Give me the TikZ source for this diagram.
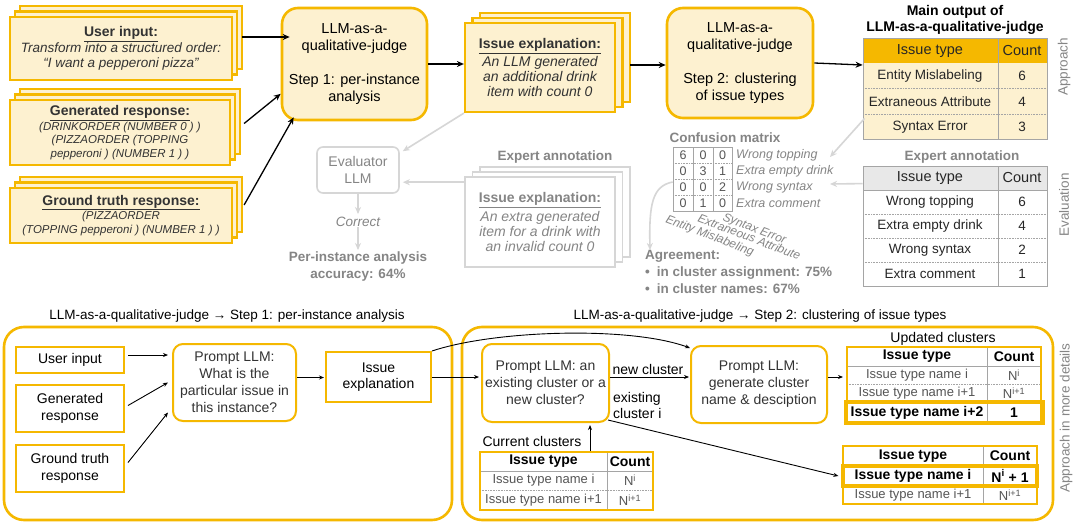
\documentclass[tikz,border=0pt]{standalone}
\usepackage{fontspec}
\setmainfont{Liberation Sans}
\usetikzlibrary{arrows.meta,shadows}
\definecolor{gold}{HTML}{F5B800}
\definecolor{lightfill}{HTML}{FDF1D0}
\definecolor{tgray}{HTML}{858585}
\definecolor{lgray}{HTML}{D6D6D6}
\definecolor{hgray}{HTML}{E8E8E8}
\definecolor{bgray}{HTML}{A5A5A5}
\definecolor{dtext}{HTML}{333333}
\definecolor{rtext}{HTML}{555555}
\newcommand\fsz[2]{\fontsize{#1}{#2}\selectfont}
\tikzset{
  ybox/.style={draw=gold, line width=2.2pt, fill=lightfill, inner sep=0pt, align=center, text=dtext},
  stackA/.style={copy shadow={shadow xshift=10pt, shadow yshift=11pt}, copy shadow={shadow xshift=5pt, shadow yshift=5.5pt}},
  stackB/.style={copy shadow={shadow xshift=15pt, shadow yshift=10pt}, copy shadow={shadow xshift=7.5pt, shadow yshift=5pt}},
  judge/.style={draw=gold, line width=2.6pt, fill=lightfill, rounded corners=16pt, inner sep=0pt, align=center, font=\fsz{14.5}{17}},
  gbox/.style={draw=lgray, line width=1.6pt, fill=white, inner sep=0pt, align=center, text=tgray},
  txt/.style={inner sep=0pt, align=center},
  barr/.style={-{Stealth[length=7pt,width=6pt]}, line width=1.3pt},
  garr/.style={-{Stealth[length=7pt,width=6pt]}, line width=1.6pt, draw=lgray},
  sarr/.style={-{Stealth[length=5pt,width=4pt]}, line width=0.9pt},
  obox/.style={draw=gold, line width=2pt, fill=white, inner sep=0pt, align=center, text=black, font=\fsz{14}{16.5}},
  rbox/.style={obox, rounded corners=10pt, text=dtext},
  cont/.style={draw=gold, line width=2.6pt, rounded corners=20pt, inner sep=0pt},
  tline/.style={bgray, line width=0.6pt},
  dline/.style={bgray, line width=0.6pt, densely dotted},
  thick gold/.style={draw=gold, line width=3.2pt},
}
\begin{document}
\begin{tikzpicture}[x=1pt,y=-1pt]
\useasboundingbox (0,0) rectangle (1079,530);
\fill[white] (0,0) rectangle (1079,530);

% ---------------- top-left stacks
\node[ybox, stackA, minimum width=222pt, minimum height=63pt, font=\fsz{13.5}{15}] (ui) at (121,48.5)
  {\fsz{14}{15}\underline{\textbf{User input:}}\\[1pt] \itshape Transform into a structured order:\\ \itshape “I want a pepperoni pizza”};
\node[ybox, stackA, minimum width=220pt, minimum height=65pt, font=\fsz{11.5}{13.5}] (gr) at (120,132.5)
  {\fsz{14}{15}\underline{\textbf{Generated response:}}\\[1pt] \itshape (DRINKORDER (NUMBER 0 ) )\\ \itshape (PIZZAORDER (TOPPING\\ \itshape pepperoni ) (NUMBER 1 ) )};
\node[ybox, stackA, minimum width=222pt, minimum height=55pt, font=\fsz{11.5}{13.5}] (gt) at (121,215.5)
  {\fsz{14}{15}\underline{\textbf{Ground truth response:}}\\[1pt] \itshape (PIZZAORDER\\ \itshape (TOPPING pepperoni ) (NUMBER 1 ) )};

% ---------------- judges
\node[judge, minimum width=145pt, minimum height=112pt] (j1) at (354.5,64)
  {LLM-as-a-\\qualitative-judge\\[17pt]Step 1: per-instance\\analysis};
\node[judge, minimum width=146pt, minimum height=110pt] (j2) at (740,63)
  {LLM-as-a-\\qualitative-judge\\[17pt]Step 2: clustering\\of issue types};

\node[ybox, stackB, minimum width=150pt, minimum height=89pt, font=\fsz{14}{15}] (ie) at (540,67.5)
  {\underline{\textbf{Issue explanation:}}\\[2pt] \itshape An LLM generated\\ \itshape an additional drink\\ \itshape item with count 0};

\draw[barr] ([shift={(9,-11.5)}]ui.east) -- ([shift={(9,-11.5)}]ui.east -| j1.west);
\draw[barr] ([shift={(13,-9)}]gr.east) -- (j1.202);
\draw[barr] ([shift={(11,-10.5)}]gt.east) -- ([shift={(13,-4)}]j1.south west);
\draw[barr] (j1.east) -- (j1.east -| ie.west);
\coordinate (ieout) at (630,65);
\draw[barr] (ieout) -- (ieout -| j2.west);

% ---------------- main output table
\node[txt, font=\bfseries\fsz{14}{16}] (mot) at (955,20) {Main output of\\LLM-as-a-qualitative-judge};
\fill[gold] (863,38) rectangle (1047,63);
\fill[lightfill] (863,63) rectangle (1047,139);
\draw[dline] (863,88) -- (1047,88) (863,114) -- (1047,114);
\draw[bgray, line width=0.8pt] (998,38) -- (998,139);
\node[draw=bgray, line width=0.8pt, minimum width=184pt, minimum height=101pt, inner sep=0pt] (mt) at (955,88.5) {};
\begin{scope}[every node/.style={txt, font=\fsz{13.5}{15}, text=black!85}]
\node[font=\fsz{14.5}{16}] (mth1) at (930,51) {Issue type};
\node[font=\fsz{14.5}{16}] (mth2) at (1022,51) {Count};
\node (mtr1) at (930,76) {Entity Mislabeling};
\node (mtc1) at (1022,76) {6};
\node (mtr2) at (930,101.5) {Extraneous Attribute};
\node (mtc2) at (1022,101.5) {4};
\node (mtr3) at (930,127) {Syntax Error};
\node (mtc3) at (1022,127) {3};
\end{scope}
\draw[barr] (j2.east) -- ([yshift=-2pt]j2.east -| mt.west);
\node[txt, rotate=90, text=tgray, font=\fsz{13.5}{15}] (appr) at (1064,67) {Approach};

% ---------------- expert annotation table (right)
\node[txt, text=tgray, font=\bfseries\fsz{13.5}{15}] (eatl) at (962,157) {Expert annotation};
\fill[hgray] (863,166) rectangle (1047,190);
\draw[dline] (863,214)--(1047,214) (863,238)--(1047,238) (863,262)--(1047,262);
\draw[bgray, line width=0.8pt] (863,190)--(1047,190) (998,166)--(998,286);
\node[draw=bgray, line width=0.8pt, minimum width=184pt, minimum height=120pt, inner sep=0pt] (et) at (955,226) {};
\begin{scope}[every node/.style={txt, font=\fsz{13.5}{15}, text=black!85}]
\node[font=\fsz{14.5}{16}] (eth1) at (930,178) {Issue type};
\node[font=\fsz{14.5}{16}] (eth2) at (1022,178) {Count};
\node (etr1) at (930,202) {Wrong topping};
\node (etc1) at (1022,202) {6};
\node (etr2) at (930,226) {Extra empty drink};
\node (etc2) at (1022,226) {4};
\node (etr3) at (930,250) {Wrong syntax};
\node (etc3) at (1022,250) {2};
\node (etr4) at (930,274) {Extra comment};
\node (etc4) at (1022,274) {1};
\end{scope}
\node[txt, rotate=90, text=tgray, font=\fsz{13.5}{15}] (eval) at (1064,205) {Evaluation};

% ---------------- confusion matrix
\node[txt, text=tgray, font=\bfseries\fsz{13.5}{15}] (cmt) at (725,138) {Confusion matrix};
\draw[tline] (693,147) -- (693,211) (713,147) -- (713,211);
\draw[dline] (673,163) -- (732,163) (673,179) -- (732,179) (673,195) -- (732,195);
\node[draw=bgray, line width=0.7pt, minimum width=59pt, minimum height=64pt, inner sep=0pt] (cm) at (702.5,179) {};
\begin{scope}[every node/.style={txt, font=\fsz{12.5}{14}, text=rtext}]
\node (m11) at (683,155) {6}; \node (m12) at (703,155) {0}; \node (m13) at (722.5,155) {0};
\node (m21) at (683,171) {0}; \node (m22) at (703,171) {3}; \node (m23) at (722.5,171) {1};
\node (m31) at (683,187) {0}; \node (m32) at (703,187) {0}; \node (m33) at (722.5,187) {2};
\node (m41) at (683,203) {0}; \node (m42) at (703,203) {1}; \node (m43) at (722.5,203) {0};
\end{scope}
\begin{scope}[every node/.style={txt, anchor=west, font=\itshape\fsz{12.5}{14}, text=tgray}]
\node (cl1) at (736,155) {Wrong topping};
\node (cl2) at (736,171) {Extra empty drink};
\node (cl3) at (736,187) {Wrong syntax};
\node (cl4) at (736,203) {Extra comment};
\end{scope}
\begin{scope}[every node/.style={txt, anchor=north west, rotate=-21, font=\itshape\fsz{12}{14}, text=tgray}]
\node (cr1) at (668,214) {Entity Mislabeling};
\node (cr2) at (700,213) {Extraneous Attribute};
\node (cr3) at (725,212) {Syntax Error};
\end{scope}
\node[txt, anchor=north west, align=left, text=tgray, font=\bfseries\fsz{13.5}{17}] (agr) at (645,250)
  {Agreement:\\[0pt]•\hspace{7pt}in cluster assignment: 75\%\\•\hspace{7pt}in cluster names: 67\%};
\draw[garr] ([yshift=-3pt]cm.west) .. controls (652,186) and (649,205) .. ([xshift=5pt]agr.north west);

\coordinate (cmA) at (830,157);
\coordinate (cmB) at (830,184);
\draw[garr] ([shift={(2,-21)}]mt.south west) -- (cmA);
\draw[garr] ([yshift=-18pt]et.north west) -- (cmB);

% ---------------- evaluator part
\node[gbox, rounded corners=6pt, minimum width=82pt, minimum height=46pt, font=\fsz{14}{17}] (ev) at (358,170) {Evaluator\\LLM};
\node[txt, text=tgray, font=\itshape\fsz{13.5}{15}] (cor) at (358,222) {Correct};
\node[txt, text=tgray, font=\bfseries\fsz{13.5}{17}] (acc) at (358,267) {Per-instance analysis\\accuracy: 64\%};
\draw[garr] (ev.south) -- ([yshift=3pt]cor.north);
\draw[garr] (cor.south) -- ([yshift=2pt]acc.north);

\node[txt, text=tgray, font=\bfseries\fsz{13.5}{15}] (eal) at (555,157) {Expert annotation};
\node[gbox, stackB, minimum width=150pt, minimum height=90pt, font=\fsz{14}{15}] (ex) at (540,222)
  {\underline{\textbf{Issue explanation:}}\\[2pt] \itshape An extra generated\\ \itshape item for a drink with\\ \itshape an invalid count 0};
\draw[garr] (ie.south west) -- ([shift={(3,5)}]ev.north east);
\draw[garr] ([yshift=-6pt]ex.north west) -- ([shift={(3,6)}]ex.north west -| ev.east);

% ---------------- bottom: step 1
\node[txt, font=\fsz{13.5}{15}] (bt1) at (227,316) {LLM-as-a-qualitative-judge → Step 1: per-instance analysis};
\node[txt, font=\fsz{13.5}{15}] (bt2) at (760,316) {LLM-as-a-qualitative-judge → Step 2: clustering of issue types};
\node[cont, minimum width=448pt, minimum height=193pt] (b1) at (228,423.5) {};
\node[cont, minimum width=591pt, minimum height=193pt] (b2) at (757.5,423.5) {};

\node[obox, minimum width=108pt, minimum height=26pt] (ui2) at (70,360) {User input};
\node[obox, minimum width=108pt, minimum height=47pt] (gr2) at (70,408.5) {Generated\\response};
\node[obox, minimum width=108pt, minimum height=47pt] (gt2) at (70,468.5) {Ground truth\\response};
\node[rbox, minimum width=123pt, minimum height=77pt, font=\fsz{14}{17}] (p1) at (234.5,382.5) {Prompt LLM:\\What is the\\particular issue in\\this instance?};
\node[obox, minimum width=105pt, minimum height=50pt] (ie2) at (378.5,377) {Issue\\explanation};

\draw[sarr] ([shift={(3,-5)}]ui2.east) -- ([shift={(-4,-5)}]ui2.east -| p1.west);
\draw[sarr] ([shift={(3,-3)}]gr2.east) -- ([xshift=-4pt]p1.west);
\draw[sarr] ([shift={(3,-6)}]gt2.east) -- ([shift={(-4,30)}]p1.west);
\draw[sarr] ([yshift=5pt]p1.east) -- ([shift={(-1,-5)}]p1.east -| ie2.west);

% ---------------- bottom: step 2
\node[rbox, minimum width=127pt, minimum height=78pt, font=\fsz{14}{17}] (pc) at (545.5,383) {Prompt LLM: an\\existing cluster or a\\new cluster?};
\node[rbox, minimum width=136pt, minimum height=77pt, font=\fsz{14}{17}] (gen) at (759,384.5) {Prompt LLM:\\generate cluster\\name \& desciption};
\node[txt, font=\fsz{14}{16}] (ncl) at (648,369) {new cluster};
\node[txt, anchor=west, align=left, font=\fsz{14}{16}] (excl) at (613,405) {existing\\cluster i};

\draw[sarr] (ie2.east) -- ([xshift=-2pt]ie2.east -| pc.west);
\draw[sarr] (ie2.north east) .. controls (495,330) and (630,326) .. ([shift={(0,3)}]gen.north west);
\draw[sarr] ([yshift=6pt]pc.east) -- ([shift={(-1,-6)}]pc.east -| gen.west);

% updated clusters table
\node[txt, font=\fsz{14}{16}] (uclab) at (943,339) {Updated clusters};
\draw[tline] (847,366) -- (1041,366) (987,347) -- (987,423);
\draw[dline] (847,384) -- (1041,384);
\node[draw=gold, line width=2pt, minimum width=194pt, minimum height=76pt, inner sep=0pt] (ut) at (944,385) {};
\node[thick gold, minimum width=197pt, minimum height=21pt, inner sep=0pt] (utb) at (944.5,412.5) {};
\begin{scope}[every node/.style={txt}]
\node[font=\bfseries\fsz{14}{16}] (uth1) at (917,356.5) {Issue type};
\node[font=\bfseries\fsz{14}{16}] (uth2) at (1014,356.5) {Count};
\node[font=\fsz{13}{15}, text=rtext] (utr1) at (917,375) {Issue type name i};
\node[font=\fsz{13}{15}, text=rtext] (utc1) at (1014,375) {N\textsuperscript{i}};
\node[font=\fsz{13}{15}, text=rtext] (utr2) at (917,393) {Issue type name i+1};
\node[font=\fsz{13}{15}, text=rtext] (utc2) at (1014,393) {N\textsuperscript{i+1}};
\node[font=\bfseries\fsz{14}{16}] (utr3) at (917,412.5) {Issue type name i+2};
\node[font=\bfseries\fsz{14}{16}] (utc3) at (1014,412.5) {1};
\end{scope}
\draw[sarr] ([yshift=7.5pt]gen.east) -- ([shift={(-3,-7.5)}]gen.east -| ut.west);

% lower table
\draw[tline] (983,446) -- (983,504);
\node[draw=gold, line width=2pt, minimum width=194pt, minimum height=58pt, inner sep=0pt] (lt) at (940,475) {};
\node[thick gold, minimum width=194pt, minimum height=20pt, inner sep=0pt] (ltb) at (940,476) {};
\begin{scope}[every node/.style={txt}]
\node[font=\bfseries\fsz{14}{16}] (lth1) at (913,456) {Issue type};
\node[font=\bfseries\fsz{14}{16}] (lth2) at (1010,456) {Count};
\node[font=\bfseries\fsz{14}{16}] (ltr1) at (913,476) {Issue type name i};
\node[font=\bfseries\fsz{14}{16}] (ltc1) at (1010,476) {N\textsuperscript{i} + 1};
\node[font=\fsz{13}{15}, text=rtext] (ltr2) at (913,495) {Issue type name i+1};
\node[font=\fsz{13}{15}, text=rtext] (ltc2) at (1010,495) {N\textsuperscript{i+1}};
\end{scope}
\draw[sarr] ([shift={(-2,-3)}]pc.south east) -- ([xshift=-3pt]ltb.west);

% current clusters table
\node[txt, font=\fsz{14}{16}] (cclab) at (532,441) {Current clusters};
\draw[tline] (480,471) -- (653,471) (607,452) -- (607,510);
\draw[dline] (480,490) -- (653,490);
\node[draw=gold, line width=2pt, minimum width=173pt, minimum height=58pt, inner sep=0pt] (ct) at (566.5,481) {};
\begin{scope}[every node/.style={txt}]
\node[font=\bfseries\fsz{14}{16}] (cth1) at (543.5,461.5) {Issue type};
\node[font=\bfseries\fsz{14}{16}] (cth2) at (630,461.5) {Count};
\node[font=\fsz{13}{15}, text=rtext] (ctr1) at (543.5,480.5) {Issue type name i};
\node[font=\fsz{13}{15}, text=rtext] (ctc1) at (630,480.5) {N\textsuperscript{i}};
\node[font=\fsz{13}{15}, text=rtext] (ctr2) at (543.5,500) {Issue type name i+1};
\node[font=\fsz{13}{15}, text=rtext] (ctc2) at (630,500) {N\textsuperscript{i+1}};
\end{scope}
\draw[sarr] ([xshift=23.5pt]ct.north) -- ([shift={(23.5,2)}]ct.north |- pc.south);

\node[txt, rotate=90, text=tgray, font=\fsz{13.5}{15}] (amd) at (1066,418) {Approach in more details};
\end{tikzpicture}
\end{document}
